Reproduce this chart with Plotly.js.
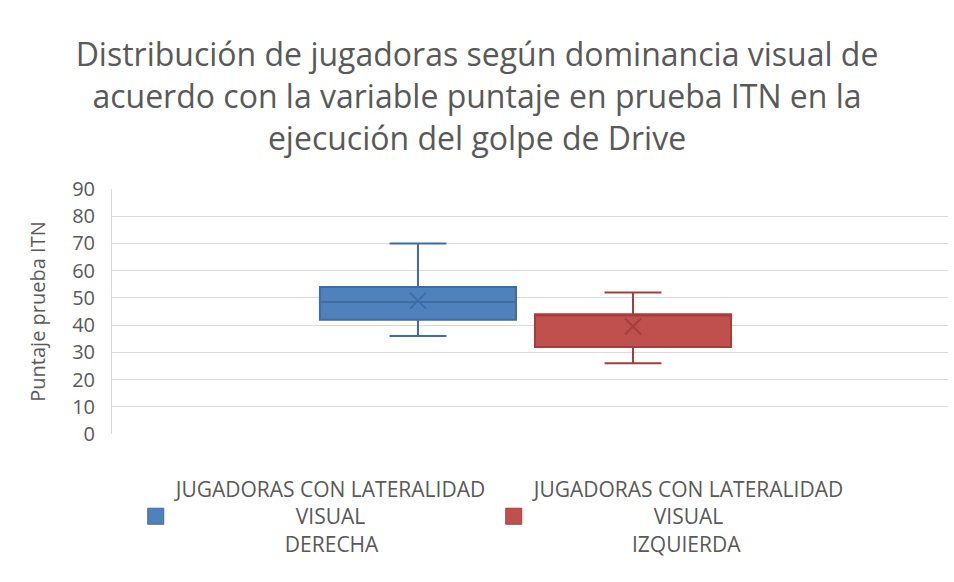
<!DOCTYPE html>
<html>
<head>
<meta charset="utf-8">
<script src="https://cdn.plot.ly/plotly-3.0.1.min.js"></script>
<style>html,body{margin:0;padding:0;background:#fff;}#chart{width:954px;height:582px;}</style>
</head>
<body>
<div id="chart"></div>
<script>
// ---- data ----
const categories = ['DERECHA', 'IZQUIERDA'];
const seriesLines = [
  ['JUGADORAS CON LATERALIDAD', 'VISUAL', 'DERECHA'],
  ['JUGADORAS CON LATERALIDAD', 'VISUAL', 'IZQUIERDA']
];
const lowerWhisker = [36, 26];
const q1Values = [42, 32];
const medianValues = [48.5, 43.5];
const q3Values = [54, 44];
const upperWhisker = [70, 52];
const meanValues = [49, 39.5];
const yTickValues = [0, 10, 20, 30, 40, 50, 60, 70, 80, 90];

// ---- styling ----
const FONT = 'Open Sans, Noto Sans, sans-serif';
const fills = ['#4f81bd', '#c0504d'];
const edges = ['#3f6ca3', '#a23f3c'];
const textColor = '#595959';
const legendFontSize = 21;

// center multi-line legend text with non-breaking spaces
const ctx = document.createElement('canvas').getContext('2d');
ctx.font = legendFontSize + 'px "Open Sans"';
const nbspW = ctx.measureText('\u00A0').width || 5.4;
function centered(lines) {
  const widths = lines.map(l => ctx.measureText(l).width);
  const maxW = Math.max(...widths);
  return lines.map((l, i) => '\u00A0'.repeat(Math.round((maxW - widths[i]) / 2 / nbspW)) + l).join('<br>');
}

const traces = [];
categories.forEach((c, i) => {
  traces.push({
    type: 'box',
    name: seriesLines[i].join(' '),
    x: [c],
    q1: [q1Values[i]],
    median: [medianValues[i]],
    q3: [q3Values[i]],
    lowerfence: [lowerWhisker[i]],
    upperfence: [upperWhisker[i]],
    fillcolor: fills[i],
    line: {color: edges[i], width: 2},
    whiskerwidth: 0.29,
    boxpoints: false,
    showlegend: false,
    hoverinfo: 'skip'
  });
});
traces.push({
  type: 'scatter',
  mode: 'markers',
  x: categories,
  y: meanValues,
  marker: {symbol: 'x-thin-open', size: 16, line: {color: edges, width: 2}, color: edges},
  showlegend: false,
  hoverinfo: 'skip'
});
// legend entries (square swatches like the reference)
categories.forEach((c, i) => {
  traces.push({
    type: 'scatter',
    mode: 'markers',
    name: centered(seriesLines[i]),
    x: [null], y: [null],
    marker: {symbol: 'square', size: 16, color: fills[i], line: {color: edges[i], width: 1}},
    showlegend: true,
    hoverinfo: 'skip'
  });
});

const layout = {
  width: 954, height: 582,
  paper_bgcolor: '#fff', plot_bgcolor: '#fff',
  margin: {l: 112, r: 6, t: 189, b: 148},
  font: {family: FONT, color: textColor},
  title: {
    text: 'Distribución de jugadoras según dominancia visual de<br>acuerdo con la variable puntaje en prueba ITN en la<br>ejecución del golpe de Drive',
    font: {family: FONT, size: 32, color: textColor},
    x: 0.5, xanchor: 'center', xref: 'container',
    y: 0.886, yanchor: 'middle', yref: 'container'
  },
  boxmode: 'overlay',
  boxgap: 0.088,
  boxgroupgap: 0,
  xaxis: {
    type: 'category',
    categoryorder: 'array', categoryarray: categories,
    range: [-1.423, 2.465],
    showticklabels: false, showgrid: false, zeroline: false, showline: false, ticks: ''
  },
  yaxis: {
    range: [0, 90],
    tickvals: yTickValues,
    tickfont: {family: FONT, size: 20, color: textColor},
    showgrid: true, gridcolor: '#d9d9d9', gridwidth: 1,
    zeroline: false,
    showline: true, linecolor: '#d9d9d9', linewidth: 1,
    ticks: '', ticklabelstandoff: 12,
    title: {text: 'Puntaje prueba ITN', font: {family: FONT, size: 20, color: textColor}, standoff: 21}
  },
  showlegend: true,
  legend: {
    orientation: 'h',
    x: 0.0284, xanchor: 'left', y: -0.142, yanchor: 'top',
    font: {family: FONT, size: legendFontSize, color: textColor},
    itemwidth: 30,
    itemsizing: 'trace',
    valign: 'middle',
    traceorder: 'normal',
    entrywidth: 313, entrywidthmode: 'pixels'
  }
};

Plotly.newPlot('chart', traces, layout, {displayModeBar: false, staticPlot: true});
</script>
</body>
</html>
